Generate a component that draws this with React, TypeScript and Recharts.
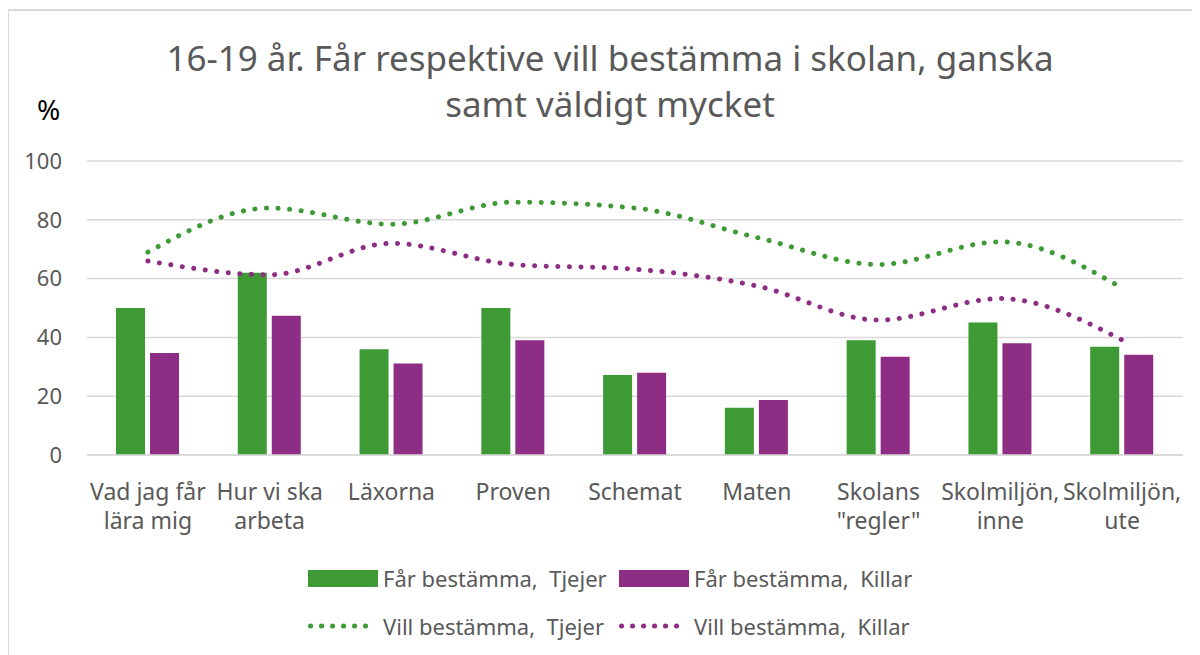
import React from "react";
import { ComposedChart, Bar, Line, XAxis, YAxis, CartesianGrid } from "recharts";

const categories = [
  "Vad jag får\nlära mig",
  "Hur vi ska\narbeta",
  "Läxorna",
  "Proven",
  "Schemat",
  "Maten",
  "Skolans\n\"regler\"",
  "Skolmiljön,\ninne",
  "Skolmiljön,\nute",
];
const farTjejer = [50, 62, 36, 50, 27.2, 16.1, 39, 45.1, 36.8];
const farKillar = [34.7, 47.4, 31.1, 39, 28, 18.7, 33.4, 38, 34.1];
const villTjejer = [69, 84, 78.5, 86, 84, 74, 64.8, 72.5, 56.8];
const villKillar = [66, 61.3, 72, 64.8, 63.2, 57.5, 45.9, 53.2, 39.1];
const yTicks = [0, 20, 40, 60, 80, 100];

const seriesNames = {
  farTjejer: "Får bestämma,  Tjejer",
  farKillar: "Får bestämma,  Killar",
  villTjejer: "Vill bestämma,  Tjejer",
  villKillar: "Vill bestämma,  Killar",
};

const GREEN = "#3D9A35";
const PURPLE = "#8E2D84";
const TEXT = "#595959";
const FONT = "'Noto Sans', 'Open Sans', sans-serif";

const data = categories.map((c, i) => ({
  name: c,
  farTjejer: farTjejer[i],
  farKillar: farKillar[i],
  villTjejer: villTjejer[i],
  villKillar: villKillar[i],
}));

const XTick = (props: any) => {
  const { x, y, payload } = props;
  const lines = String(payload.value).split("\n");
  return (
    <g>
      {lines.map((l: string, i: number) => (
        <text
          key={i}
          x={x}
          y={y + 37 + i * 29}
          textAnchor="middle"
          fill={TEXT}
          fontSize={23}
          fontFamily={FONT}
        >
          {l}
        </text>
      ))}
    </g>
  );
};

const LegendItem = ({ kind, color, label, left, top }: any) => (
  <div
    style={{
      position: "absolute",
      left,
      top: top - 16,
      height: 32,
      display: "flex",
      alignItems: "center",
      whiteSpace: "pre",
      fontFamily: FONT,
      fontSize: 22,
      color: TEXT,
    }}
  >
    {kind === "bar" ? (
      <div style={{ width: 70, height: 17, background: color, marginRight: 5 }} />
    ) : (
      <svg width={70} height={16} style={{ marginRight: 5 }}>
        <line
          x1={2.5}
          y1={8}
          x2={68}
          y2={8}
          stroke={color}
          strokeWidth={5}
          strokeDasharray="0.1 10.9"
          strokeLinecap="round"
        />
      </svg>
    )}
    <span>{label}</span>
  </div>
);

export default function App() {
  return (
    <div style={{ position: "relative", width: 1200, height: 655, marginLeft: -8, marginTop: -8, overflow: "hidden", background: "#fff" }}>
      <div
        style={{
          position: "absolute",
          left: 7,
          top: 9,
          width: 1220,
          height: 680,
          border: "2px solid #d9d9d9",
          boxSizing: "border-box",
        }}
      />
      <div
        style={{
          position: "absolute",
          left: 0,
          top: 35,
          width: 1220,
          textAlign: "center",
          fontFamily: FONT,
          fontSize: 35,
          color: TEXT,
          lineHeight: "46px",
        }}
      >
        16-19 år. Får respektive vill bestämma i skolan, ganska
        <br />
        samt väldigt mycket
      </div>
      <div
        style={{
          position: "absolute",
          left: 37,
          top: 90,
          fontFamily: FONT,
          fontSize: 28,
          color: "#000",
        }}
      >
        %
      </div>
      <ComposedChart
        width={1200}
        height={655}
        data={data}
        margin={{ top: 161, right: 17, bottom: 110, left: 27 }}
        barSize={29}
        barGap={5}
        style={{ position: "absolute", left: 0, top: 0 }}
      >
        <CartesianGrid vertical={false} stroke="#d9d9d9" strokeWidth={1.5} />
        <XAxis
          dataKey="name"
          height={90}
          interval={0}
          tickLine={false}
          axisLine={{ stroke: "#d9d9d9", strokeWidth: 1.5 }}
          tick={<XTick />}
        />
        <YAxis
          width={60}
          domain={[0, 100]}
          ticks={yTicks}
          axisLine={false}
          tickLine={false}
          tickSize={0}
          tickMargin={25}
          tick={{ fill: TEXT, fontSize: 22, fontFamily: FONT }}
        />
        <Bar dataKey="farTjejer" name={seriesNames.farTjejer} fill={GREEN} isAnimationActive={false} />
        <Bar dataKey="farKillar" name={seriesNames.farKillar} fill={PURPLE} isAnimationActive={false} />
        <Line
          type="monotone"
          dataKey="villTjejer"
          name={seriesNames.villTjejer}
          stroke={GREEN}
          strokeWidth={5}
          strokeDasharray="0.1 11.5"
          strokeLinecap="round"
          dot={false}
          activeDot={false}
          isAnimationActive={false}
        />
        <Line
          type="monotone"
          dataKey="villKillar"
          name={seriesNames.villKillar}
          stroke={PURPLE}
          strokeWidth={5}
          strokeDasharray="0.1 11.5"
          strokeLinecap="round"
          dot={false}
          activeDot={false}
          isAnimationActive={false}
        />
      </ComposedChart>
      <LegendItem kind="bar" color={GREEN} label={seriesNames.farTjejer} left={308} top={578} />
      <LegendItem kind="bar" color={PURPLE} label={seriesNames.farKillar} left={619} top={578} />
      <LegendItem kind="line" color={GREEN} label={seriesNames.villTjejer} left={308} top={626} />
      <LegendItem kind="line" color={PURPLE} label={seriesNames.villKillar} left={619} top={626} />
    </div>
  );
}
